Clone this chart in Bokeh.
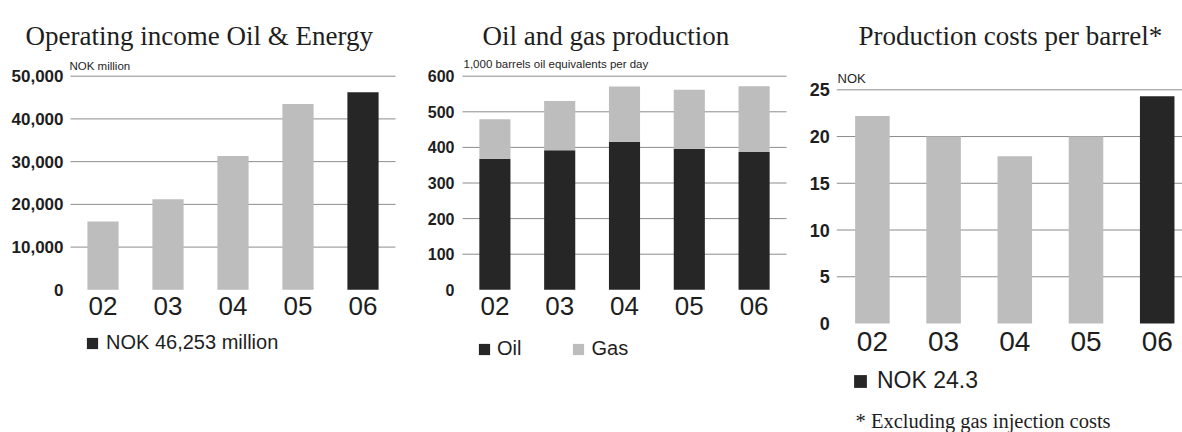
from bokeh.plotting import figure
from bokeh.models import (Range1d, FixedTicker, NumeralTickFormatter, Label,
                          Legend, LegendItem, ColumnDataSource)
from bokeh.layouts import row
from bokeh.embed import file_html
from bokeh.resources import INLINE

# ---------------- data ----------------
years = ["02", "03", "04", "05", "06"]
income = [16000, 21200, 31300, 43500, 46253]          # NOK million
oil = [368, 392, 416, 396, 387]                        # 1,000 boe/day
gas = [111, 138, 155, 166, 185]
cost = [22.2, 20.0, 17.9, 20.0, 24.3]                  # NOK per barrel
income_ticks = [0, 10000, 20000, 30000, 40000, 50000]
prod_ticks = [0, 100, 200, 300, 400, 500, 600]
cost_ticks = [0, 5, 10, 15, 20, 25]

LIGHT = "#bdbdbd"
DARK = "#262626"
GRID = "#8c8c8c"
TXT = "#1e1e1e"
H = 432

xs = list(range(len(years)))
highlight = [DARK if y == years[-1] else LIGHT for y in years]


def span(v0, p0, v1, p1, size):
    """range whose v0 falls at pixel p0 and v1 at pixel p1 (pixels from the
    left / from the top), over a canvas of `size` pixels"""
    k = (p1 - p0) / (v1 - v0)
    a = v0 - p0 / k
    b = v0 + (size - p0) / k
    return (min(a, b), max(a, b))


def base_fig(width, xpix, ypix, yticks, fmt, ylab, xlab, xstand, ystand, gx1):
    # xpix: pixel of category -0.5 and 4.5 ; ypix: pixel of 0 and of top tick
    xr = span(-0.5, xpix[0], len(years) - 0.5, xpix[1], width)
    ys = span(0, H - ypix[0], yticks[-1], H - ypix[1], H)
    p = figure(width=width, height=H, x_range=Range1d(*xr),
               y_range=Range1d(*ys), output_backend="svg",
               toolbar_location=None, min_border=0, title=None)
    p.outline_line_color = None
    p.background_fill_color = "white"
    p.border_fill_color = "white"
    p.grid.visible = False
    gsrc = ColumnDataSource(dict(y=yticks[1:]))
    p.segment(x0=-0.5, x1=gx1, y0="y", y1="y", source=gsrc,
              line_color=GRID, line_width=1)
    for ax in (p.xaxis[0], p.yaxis[0]):
        ax.axis_line_color = None
        ax.major_tick_line_color = None
        ax.minor_tick_line_color = None
        ax.major_tick_out = 0
        ax.major_tick_in = 0
        ax.minor_tick_out = 0
        ax.major_label_text_font = "Liberation Sans"
        ax.major_label_text_color = TXT
    p.yaxis.fixed_location = -0.5
    p.xaxis.fixed_location = 0
    p.yaxis.ticker = FixedTicker(ticks=yticks)
    p.yaxis.formatter = NumeralTickFormatter(format=fmt)
    p.yaxis.major_label_text_font_style = "bold"
    p.yaxis.major_label_text_font_size = ylab
    p.yaxis.major_label_standoff = ystand
    p.xaxis.ticker = FixedTicker(ticks=xs)
    p.xaxis.major_label_overrides = {i: y for i, y in zip(xs, years)}
    p.xaxis.major_label_text_font_size = xlab
    p.xaxis.major_label_standoff = xstand
    return p


def add_text(p, x, y_top, text, font, size):
    p.add_layout(Label(x=x, y=H - y_top, x_units="screen", y_units="screen",
                       text=text, text_font=font, text_font_size=size,
                       text_baseline="alphabetic", text_align="left",
                       text_color=TXT))


def make_legend(items, x, y_top, size, standoff, glyph, spacing=0):
    lg = Legend(items=items, location=(x, H - y_top), orientation="horizontal")
    lg.background_fill_alpha = 0
    lg.border_line_color = None
    lg.padding = 0
    lg.margin = 0
    lg.spacing = spacing
    lg.glyph_width = glyph
    lg.glyph_height = glyph
    lg.label_height = glyph
    lg.label_standoff = standoff
    lg.label_text_font = "Liberation Sans"
    lg.label_text_font_size = size
    lg.label_text_color = TXT
    return lg


# ---------------- panel 1 ----------------
p1 = base_fig(400, (70, 395), (289.3, 75.7), income_ticks, "0,0",
              "17px", "26px", 7, 7, 4.5)
s1 = ColumnDataSource(dict(x=xs, v=income, c=highlight))
r1 = p1.vbar(x="x", top="v", width=0.48, fill_color="c", line_color=None,
             source=s1)
add_text(p1, 25, 35, "Operating income Oil & Energy", "Liberation Serif", "27px")
add_text(p1, 69, 65, "NOK million", "Liberation Sans", "11.5px")
p1.add_layout(make_legend(
    [LegendItem(label="NOK 46,253 million", renderers=[r1], index=4)],
    85, 354, "20px", 7, 14), "center")

# ---------------- panel 2 ----------------
p2 = base_fig(395, (62, 386), (289.3, 75.7), prod_ticks, "0",
              "16px", "26px", 7, 8, 4.5)
s2 = ColumnDataSource(dict(x=xs, oil=oil, gas=gas))
r_oil, r_gas = p2.vbar_stack(["oil", "gas"], x="x", width=0.48,
                             fill_color=[DARK, LIGHT], line_color=None,
                             source=s2)
add_text(p2, 82, 35, "Oil and gas production", "Liberation Serif", "27px")
add_text(p2, 63, 63, "1,000 barrels oil equivalents per day", "Liberation Sans", "11.5px")
p2.add_layout(make_legend(
    [LegendItem(label="Oil", renderers=[r_oil]),
     LegendItem(label="Gas", renderers=[r_gas])],
    77, 360, "20px", 6, 14, spacing=50), "center")

# ---------------- panel 3 ----------------
p3 = base_fig(387, (41.3, 397.3), (323, 89.3), cost_ticks, "0",
              "18px", "28px", 8, 7, 10)
s3 = ColumnDataSource(dict(x=xs, v=cost, c=highlight))
r3 = p3.vbar(x="x", top="v", width=0.485, fill_color="c", line_color=None,
             source=s3)
add_text(p3, 63, 35, "Production costs per barrel*", "Liberation Serif", "27px")
add_text(p3, 42, 78, "NOK", "Liberation Sans", "13px")
p3.add_layout(make_legend(
    [LegendItem(label="NOK 24.3", renderers=[r3], index=4)],
    57, 394, "23px", 9, 16), "center")
add_text(p3, 60, 420, "* Excluding gas injection costs", "Liberation Serif", "20.5px")

layout = row(p1, p2, p3)
open("out.html", "w").write(file_html(layout, INLINE))
